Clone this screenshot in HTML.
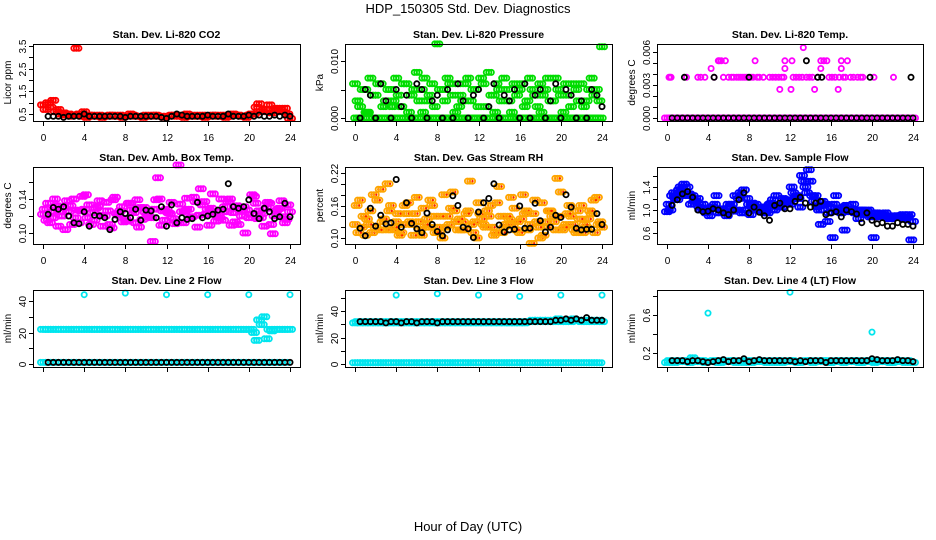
<!DOCTYPE html>
<html><head><meta charset="utf-8">
<style>
html,body{margin:0;padding:0;background:#fff;}
svg{display:block;font-family:"Liberation Sans",sans-serif;}
</style></head>
<body>
<svg id="chart" width="936" height="540" viewBox="0 0 936 540" xmlns="http://www.w3.org/2000/svg">
<rect x="0" y="0" width="936" height="540" fill="#fff"/>
<text x="468" y="13" text-anchor="middle" font-size="13">HDP_150305  Std. Dev. Diagnostics</text>
<text x="468" y="531" text-anchor="middle" font-size="13">Hour of Day (UTC)</text>
</svg>
<script>
// ---------- data ----------
const xTicks = [0,4,8,12,16,20,24];
const xTickLabels = ['0','4','8','12','16','20','24'];

// P1 CO2
const co2RedA = [0.9,1.0,1.1,0.7,0.55,0.5,0.45,0.5,0.6,0.45,0.4,0.45,0.4,0.45,0.4,0.45,0.4,0.5,0.4,0.4,0.45,0.4,0.45,0.4,0.4,0.45,0.4,0.45,0.5,0.4,0.4,0.45,0.4,0.45,0.4,0.45,0.4,0.5,0.45,0.4,0.45,0.5,0.95,0.7,0.9,0.65,0.7,0.75,0.3];
const co2RedB = [0.7,0.8,0.6,0.5,0.45,0.4,3.4,0.4,0.35,0.45,0.4,0.35,0.4,0.45,0.4,0.35,0.4,0.45,0.4,0.35,0.4,0.45,0.4,0.35,0.4,0.45,0.4,0.35,0.4,0.45,0.4,0.35,0.4,0.45,0.4,0.35,0.4,0.45,0.4,0.35,0.5,0.8,0.6,0.7,0.55,0.75,0.6,0.5];
const co2Black = [0.4,0.4,0.4,0.35,0.4,0.4,0.4,0.5,0.4,0.4,0.4,0.4,0.4,0.4,0.4,0.35,0.4,0.4,0.4,0.4,0.4,0.4,0.35,0.3,0.4,0.5,0.45,0.4,0.4,0.4,0.4,0.45,0.4,0.4,0.4,0.5,0.4,0.4,0.4,0.45,0.4,0.45,0.4,0.4,0.45,0.4,0.45,0.4];
const co2YTicks = [0.5,1,1.5,2,2.5,3,3.5];
const co2YLabels = ['0.5','','1.5','','2.5','','3.5'];

// P2 pressure (x 0.001)
const presGreenA = [6,2,5,7,4,6,3,5,7,2,6,4,8,5,3,6,13,5,7,4,6,3,7,5,2,6,8,4,5,7,3,6,5,2,7,4,6,5,3,7,4,6,2,5,6,3,7,5,12.5];
const presGreenB = [3,5,1,4,6,2,5,3,4,6,1,5,3,7,4,2,5,3,6,1,4,6,3,5,7,2,4,6,3,5,1,4,6,3,5,2,4,7,3,5,1,4,6,3,2,5,4,3];
const presGreenC = [0,0,1,0,0,0,0,2,0,0,0,0,0,1,0,0,0,0,0,0,2,0,0,0,0,0,0,1,0,0,0,0,0,0,0,0,1,0,0,0,0,0,0,0,0,0,0,0];
const presGreenD = [0,0,0,0,0,0,0,0,0,0,0,0,0,0,0,0,0,0,0,0,0,0,0,0,0,0,0,0,0,0,0,0,0,0,0,0,0,0,0,0,0,0,0,0,0,0,0,0];
const presBlack = [0,5,4,0,6,3,0,5,2,4,0,6,5,0,3,4,0,5,0,6,3,0,4,5,0,2,6,0,4,3,5,0,6,0,4,5,0,3,6,0,5,4,0,3,0,5,4,2];
const presYTicks = [0,0.005,0.010,0.015];
const presYLabels = ['0.000','','0.010',''];

// P3 Li-820 temp (x 0.001)
const tempZeroA = [0,0,0,0,0,0,0,0,0,0,0,0,0,0,0,0,0,0,0,0,0,0,0,0,0,0,0,0,0,0,0,0,0,0,0,0,0,0,0,0,0,0,0,0,0,0,0,0,0];
const tempZeroB = [0,0,0,0,0,0,0,0,0,0,0,0,0,0,0,0,0,0,0,0,0,0,0,0,0,0,0,0,0,0,0,0,0,0,0,0,0,0,0,0,0,0,0,0,0,0,0,0];
const tempHiX = [0.2,0.3,0.4,1.9,3.0,3.3,3.7,4.3,4.6,5.0,5.1,5.3,5.5,5.7,6.0,6.3,6.5,6.8,7.0,7.2,7.4,7.6,7.8,8.2,8.4,8.6,8.8,9.0,9.4,10.0,10.3,10.6,10.9,11.0,11.2,11.4,11.5,11.5,12.1,12.2,12.3,12.6,12.9,13.2,13.3,13.6,13.9,14.2,14.4,14.7,15.0,15.0,15.3,15.6,15.8,16.1,16.4,16.7,16.8,17.0,17.0,17.2,17.4,17.6,17.9,18.2,18.6,18.9,19.1,20.2,22.1];
const tempHiY = [3.7,3.7,3.7,3.7,3.7,3.7,3.7,4.5,3.7,5.2,5.2,5.2,3.7,5.2,3.7,3.7,3.7,3.7,3.7,3.7,3.7,3.7,3.7,3.7,3.7,5.2,3.7,3.7,3.7,3.7,3.7,3.7,3.7,2.6,3.7,3.7,5.2,4.5,2.6,5.2,3.7,3.7,3.7,3.7,6.4,3.7,3.7,3.7,2.6,3.7,5.2,4.5,5.2,5.2,3.7,3.7,3.7,2.6,3.7,5.2,4.5,3.7,3.7,5.2,3.7,3.7,3.7,3.7,3.7,3.7,3.7];
const tempBlack = [0,0,0,0,0,0,0,0,0,0,0,0,0,0,0,0,0,0,0,0,0,0,0,0,0,0,0,0,0,0,0,0,0,0,0,0,0,0,0,0,0,0,0,0,0,0,0,0];
const tempBlackHiX = [1.7,4.6,8.0,13.6,14.7,15.1,19.8,23.8];
const tempBlackHiY = [3.7,3.7,3.7,5.2,3.7,3.7,3.7,3.7];
const tempYTicks = [0,0.001,0.002,0.003,0.004,0.005,0.006];
const tempYLabels = ['0.000','','','0.003','','','0.006'];

// P4 amb box temp (x 0.001)
const ambA = [122,135,118,108,130,125,140,112,128,133,115,138,120,110,142,126,117,135,112,130,124,118,139,109,128,136,113,125,141,119,107,133,128,146,121,115,137,124,110,131,118,143,126,108,135,120,129,112,125];
const ambB = [128,112,140,125,104,132,118,126,145,110,129,121,136,106,123,131,114,127,139,116,122,90,165,126,124,117,180,112,128,142,121,137,109,125,118,131,140,113,127,100,122,135,118,129,110,126,138,116];
const ambC = [115,125,132,120,138,110,127,143,118,124,131,108,126,139,121,113,135,124,107,130,119,128,140,115,123,111,134,126,118,137,152,122,129,114,140,125,109,132,120,127,145,117,123,136,99,128,119,133];
const ambBlack = [122,130,128,131,120,112,111,125,108,121,120,118,104,116,125,123,118,128,115,127,126,118,131,108,133,112,118,116,117,136,118,120,122,127,128,158,131,129,131,139,123,117,129,125,117,119,135,119];
const ambYTicks = [0.10,0.12,0.14,0.16];
const ambYLabels = ['0.10','','0.14',''];

// P5 gas stream RH (x 0.001)
const rhA = [125,170,105,150,120,190,115,160,130,110,145,125,175,105,135,160,120,100,140,185,115,130,150,110,165,125,140,105,195,120,135,155,110,145,125,170,100,130,150,115,185,125,140,110,160,120,145,175,120];
const rhB = [160,120,135,110,170,130,200,115,145,125,165,105,130,155,120,140,110,180,125,150,135,115,205,130,145,120,160,110,140,125,175,115,135,150,90,130,165,120,140,210,115,145,125,150,110,135,170,125];
const rhC = [110,140,125,180,115,135,150,120,105,160,130,145,115,125,170,110,140,120,155,130,115,145,125,100,135,150,120,165,110,140,125,130,180,115,145,120,105,150,130,140,120,160,115,135,125,150,110,130];
const rhBlack = [118,104,155,122,142,126,128,208,120,165,127,117,110,146,125,112,104,115,178,160,120,117,101,148,165,173,200,124,111,115,116,159,118,118,164,132,111,120,142,138,180,157,118,115,116,116,145,125];
const rhYTicks = [0.10,0.12,0.14,0.16,0.18,0.20,0.22];
const rhYLabels = ['0.10','','','0.16','','','0.22'];

// P6 sample flow (x 0.01)
const sfA = [97,125,118,130,140,125,120,110,100,105,95,100,110,98,120,135,110,100,105,95,110,100,108,115,110,120,105,140,150,125,75,110,105,125,95,108,100,95,100,98,90,95,92,90,88,90,92,88,80];
const sfB = [110,130,135,145,128,115,105,100,90,110,102,95,105,125,130,100,92,110,98,105,112,125,105,118,140,125,160,130,125,105,115,80,52,100,105,97,110,85,95,100,52,88,90,85,90,88,85,92];
const sfC = [100,120,140,125,110,115,100,95,105,125,100,90,110,100,95,120,112,100,105,95,118,105,120,112,130,120,150,170,115,100,108,95,110,100,65,98,95,100,92,88,95,90,95,85,88,90,85,48];
const sfBlack = [108,118,128,132,122,100,97,98,102,100,95,92,100,118,130,95,105,96,90,82,108,112,102,102,115,122,112,105,112,115,92,95,97,88,100,97,93,78,95,82,76,78,72,72,78,75,75,72];
const sfYTicks = [0.6,0.8,1.0,1.2,1.4,1.6];
const sfYLabels = ['0.6','','1.0','','1.4',''];

// P7 line 2 flow
const l2A = [22,22,22,22,22,22,22,22,22,22,22,22,22,22,22,22,22,22,22,22,22,22,22,22,22,22,22,22,22,22,22,22,22,22,22,22,22,22,22,22,22,20,28,30,22,22,22,22,22];
const l2B = [22,22,22,22,22,22,22,22,22,22,22,22,22,22,22,22,22,22,22,22,22,22,22,22,22,22,22,22,22,22,22,22,22,22,22,22,22,22,22,22,22,15,25,16,21,22,22,22];
const l2Low = [1,1,1,1,1,1,1,1,1,1,1,1,1,1,1,1,1,1,1,1,1,1,1,1,1,1,1,1,1,1,1,1,1,1,1,1,1,1,1,1,1,1,1,1,1,1,1,1];
const l2OutX = [4,8,12,16,20,24];
const l2OutY = [44,45,44,44,44,44];
const l2Black = [1,1,1,1,1,1,1,1,1,1,1,1,1,1,1,1,1,1,1,1,1,1,1,1,1,1,1,1,1,1,1,1,1,1,1,1,1,1,1,1,1,1,1,1,1,1,1,1];
const l2YTicks = [0,10,20,30,40];
const l2YLabels = ['0','','20','','40'];

// P8 line 3 flow
const l3A = [31,31,31,31,31,31,31,31,31,31,31,31,31,31,31,31,31,31,31,31,31,31,31,31,31,31,31,31,31,31,31,31,31,31,32,32,32,32,32,32,32,32,32,33,32,32,32,32,32];
const l3B = [32,32,32,32,32,32,32,32,32,32,32,32,32,32,32,32,32,32,32,32,32,32,32,32,32,32,32,32,32,32,32,32,32,32,33,33,33,33,33,34,33,33,34,33,33,33,33,33];
const l3Low = [1,1,1,1,1,1,1,1,1,1,1,1,1,1,1,1,1,1,1,1,1,1,1,1,1,1,1,1,1,1,1,1,1,1,1,1,1,1,1,1,1,1,1,1,1,1,1,1];
const l3OutX = [4,8,12,16,20,24];
const l3OutY = [52,53,52,51,52,52];
const l3Black = [32,32,32,32,32,31,32,32,31,32,32,31,32,32,32,31,32,32,32,32,32,32,32,32,32,32,32,32,32,32,32,32,32,32,32,32,32,32,33,33,34,33,34,33,35,33,33,33];
const l3YTicks = [0,10,20,30,40,50];
const l3YLabels = ['0','','20','','40',''];

// P9 line 4 flow
const l4A = [0.1,0.11,0.12,0.11,0.12,0.15,0.11,0.12,0.11,0.12,0.1,0.12,0.11,0.12,0.11,0.1,0.12,0.11,0.12,0.11,0.12,0.1,0.12,0.11,0.12,0.11,0.1,0.12,0.11,0.12,0.11,0.12,0.1,0.12,0.11,0.12,0.11,0.12,0.1,0.12,0.11,0.12,0.11,0.12,0.1,0.12,0.11,0.12,0.1];
const l4B = [0.12,0.1,0.11,0.12,0.1,0.11,0.12,0.1,0.11,0.12,0.1,0.11,0.12,0.1,0.11,0.12,0.1,0.11,0.12,0.1,0.11,0.12,0.1,0.11,0.12,0.1,0.11,0.12,0.1,0.11,0.12,0.1,0.11,0.12,0.1,0.11,0.12,0.1,0.11,0.12,0.1,0.11,0.12,0.1,0.11,0.12,0.1,0.11];
const l4OutX = [4,12,20];
const l4OutY = [0.62,0.84,0.42];
const l4Black = [0.12,0.12,0.12,0.11,0.12,0.12,0.11,0.1,0.11,0.12,0.13,0.11,0.12,0.12,0.14,0.11,0.12,0.13,0.12,0.12,0.12,0.12,0.12,0.12,0.11,0.12,0.11,0.12,0.12,0.12,0.1,0.12,0.12,0.12,0.12,0.12,0.12,0.12,0.12,0.14,0.13,0.12,0.12,0.12,0.13,0.12,0.12,0.11];
const l4YTicks = [0.2,0.4,0.6,0.8];
const l4YLabels = ['0.2','','0.6',''];

// ---------- layout ----------
const svg = document.getElementById('chart');
const NS = 'http://www.w3.org/2000/svg';
const BLUE='#0000ff', CYAN='#00e5ee';

const panels = [
 {name:'co2', title:'Stan. Dev. Li-820 CO2', ylab:'Licor ppm', bx:[33,300], by:[44,121], px:[43,290], yv:[0.5,3.5], py:[114,46], yt:co2YTicks, yl:co2YLabels, xl:true,
  series:[{v:co2RedA,s:0,st:0.5,k:1,c:'#ff0000'},{v:co2RedB,s:0.25,st:0.5,k:1,c:'#ff0000'},{v:co2Black,s:0.5,st:0.5,k:1,c:'#000'}]},
 {name:'pressure', title:'Stan. Dev. Li-820 Pressure', ylab:'kPa', bx:[345,612], by:[44,121], px:[355,602], yv:[0,0.010], py:[118,61], yt:presYTicks, yl:presYLabels, xl:true,
  series:[{v:presGreenA,s:0,st:0.5,k:0.001,c:'#00dd00'},{v:presGreenB,s:0.25,st:0.5,k:0.001,c:'#00dd00'},{v:presGreenC,s:0.12,st:0.5,k:0.001,c:'#00dd00'},{v:presGreenD,s:0.37,st:0.5,k:0.001,c:'#00dd00'},{v:presBlack,s:0.5,st:0.5,k:0.001,c:'#000'}]},
 {name:'li820-temp', title:'Stan. Dev. Li-820 Temp.', ylab:'degrees C', bx:[657,923], by:[44,121], px:[667,913], yv:[0,0.006], py:[118,52], yt:tempYTicks, yl:tempYLabels, xl:true,
  series:[{v:tempZeroA,s:0,st:0.5,k:0.001,c:'#ff00ff'},{v:tempZeroB,s:0.25,st:0.5,k:0.001,c:'#ff00ff'},{x:tempHiX,y:tempHiY,k:0.001,c:'#ff00ff'},{v:tempBlack,s:0.5,st:0.5,k:0.001,c:'#000'},{x:tempBlackHiX,y:tempBlackHiY,k:0.001,c:'#000'}]},
 {name:'amb-box-temp', title:'Stan. Dev. Amb. Box Temp.', ylab:'degrees C', bx:[33,300], by:[167,244], px:[43,290], yv:[0.10,0.14], py:[233,199], yt:ambYTicks, yl:ambYLabels, xl:true,
  series:[{v:ambA,s:0,st:0.5,k:0.001,c:'#ff00ff'},{v:ambB,s:0.17,st:0.5,k:0.001,c:'#ff00ff'},{v:ambC,s:0.33,st:0.5,k:0.001,c:'#ff00ff'},{v:ambBlack,s:0.5,st:0.5,k:0.001,c:'#000'}]},
 {name:'gas-stream-rh', title:'Stan. Dev. Gas Stream RH', ylab:'percent', bx:[345,612], by:[167,244], px:[355,602], yv:[0.10,0.22], py:[238,173], yt:rhYTicks, yl:rhYLabels, xl:true,
  series:[{v:rhA,s:0,st:0.5,k:0.001,c:'#ffa500',in:'#ff2000'},{v:rhB,s:0.17,st:0.5,k:0.001,c:'#ffa500',in:'#ff2000'},{v:rhC,s:0.33,st:0.5,k:0.001,c:'#ffa500',in:'#ff2000'},{v:rhBlack,s:0.5,st:0.5,k:0.001,c:'#000'}]},
 {name:'sample-flow', title:'Stan. Dev. Sample Flow', ylab:'ml/min', bx:[657,923], by:[167,244], px:[667,913], yv:[0.6,1.4], py:[233,187], yt:sfYTicks, yl:sfYLabels, xl:true,
  series:[{v:sfA,s:0,st:0.5,k:0.01,c:BLUE},{v:sfB,s:0.17,st:0.5,k:0.01,c:BLUE},{v:sfC,s:0.33,st:0.5,k:0.01,c:BLUE},{v:sfBlack,s:0.5,st:0.5,k:0.01,c:'#000'}]},
 {name:'line2-flow', title:'Stan. Dev. Line 2 Flow', ylab:'ml/min', bx:[33,300], by:[290,367], px:[43,290], yv:[0,40], py:[364,301], yt:l2YTicks, yl:l2YLabels, xl:false,
  series:[{v:l2A,s:0,st:0.5,k:1,c:CYAN},{v:l2B,s:0.25,st:0.5,k:1,c:CYAN},{v:l2Low,s:0,st:0.5,k:1,c:CYAN},{x:l2OutX,y:l2OutY,k:1,c:CYAN},{v:l2Black,s:0.5,st:0.5,k:1,c:'#000'}]},
 {name:'line3-flow', title:'Stan. Dev. Line 3 Flow', ylab:'ml/min', bx:[345,612], by:[290,367], px:[355,602], yv:[0,40], py:[364,311], yt:l3YTicks, yl:l3YLabels, xl:false,
  series:[{v:l3A,s:0,st:0.5,k:1,c:CYAN},{v:l3B,s:0.25,st:0.5,k:1,c:CYAN},{v:l3Low,s:0,st:0.5,k:1,c:CYAN},{v:l3Low,s:0.25,st:0.5,k:1,c:CYAN},{x:l3OutX,y:l3OutY,k:1,c:CYAN},{v:l3Black,s:0.5,st:0.5,k:1,c:'#000'}]},
 {name:'line4-flow', title:'Stan. Dev. Line 4 (LT) Flow', ylab:'ml/min', bx:[657,923], by:[290,367], px:[667,913], yv:[0.2,0.6], py:[353,315], yt:l4YTicks, yl:l4YLabels, xl:false,
  series:[{v:l4A,s:0,st:0.5,k:1,c:CYAN},{v:l4B,s:0.25,st:0.5,k:1,c:CYAN},{x:l4OutX,y:l4OutY,k:1,c:CYAN},{v:l4Black,s:0.5,st:0.5,k:1,c:'#000'}]}
];

function mk(tag, attrs, parent){
  const e = document.createElementNS(NS, tag);
  for (const k in attrs) e.setAttribute(k, attrs[k]);
  (parent||svg).appendChild(e);
  return e;
}

// marker cluster offsets (visual thickness of overplotted readings), in px
const clusterDx = [-2.5, 0, 2.5];

panels.forEach(p => {
  const g = mk('g', {});
  
  
  const sx = h => p.px[0] + (p.px[1]-p.px[0]) * h / 24;
  const sy = v => p.py[0] + (p.py[1]-p.py[0]) * (v - p.yv[0]) / (p.yv[1]-p.yv[0]);
  const [x0,x1] = p.bx, [y0,y1] = p.by;
  const cx = (x0+x1)/2;

  const t = mk('text', {x:cx, y:y0-6, 'text-anchor':'middle', 'font-size':'10.5', 'font-weight':'bold'}, g);
  t.textContent = p.title;
  
  

  const yl = mk('text', {x:0, y:0, 'text-anchor':'middle', 'font-size':'10', transform:`translate(${x0-22},${(y0+y1)/2}) rotate(-90)`}, g);
  yl.textContent = p.ylab;
  
  

  const pg = mk('g', {fill:'none', 'stroke-width':'1.8'}, g);
  
  
  p.series.forEach(s => {
    const pts = [];
    if (s.v) s.v.forEach((v,i) => pts.push([s.s + i*s.st, v*s.k]));
    else s.x.forEach((x,i) => pts.push([x, s.y[i]*s.k]));
    const black = s.c === '#000';
    const offs = (black || s.x) ? [0] : clusterDx;
    pts.forEach(([h,v]) => {
      if (h > 24.01) return;
      offs.forEach(dx => {
        const X = Math.min(x1-2, Math.max(x0+2, sx(h)+dx));
        const c = mk('circle', {cx:X.toFixed(1), cy:sy(v).toFixed(1), r:'2.6', stroke:s.c}, pg);
        
        
        if (s.in) {
          const d = mk('circle', {cx:X.toFixed(1), cy:sy(v).toFixed(1), r:'1.1', fill:s.in, stroke:'none'}, pg);
          
          
        }
      });
    });
  });

  const box = mk('rect', {x:x0+0.5, y:y0+0.5, width:x1-x0, height:y1-y0, fill:'none', stroke:'#000', 'stroke-width':'1'}, g);
  
  

  const xa = mk('g', {stroke:'#000', 'stroke-width':'1'}, g);
  
  
  xTicks.forEach((h,i) => {
    const X = Math.round(sx(h))+0.5;
    mk('line', {x1:X, x2:X, y1:y1+1, y2:y1+5}, xa);
    if (p.xl) {
      const tx = mk('text', {x:X, y:y1+20, 'text-anchor':'middle', 'font-size':'10', stroke:'none', fill:'#000'}, xa);
      tx.textContent = xTickLabels[i];
      
      
    }
  });
  const ya = mk('g', {stroke:'#000', 'stroke-width':'1'}, g);
  
  
  p.yt.forEach((v,i) => {
    const Y = Math.round(sy(v))+0.5;
    if (Y < y0 - 1 || Y > y1 + 2) return;
    mk('line', {x1:x0-4, x2:x0, y1:Y, y2:Y}, ya);
    if (p.yl[i]) {
      const ty = mk('text', {x:0, y:0, 'text-anchor':'middle', 'font-size':'10', stroke:'none', fill:'#000', transform:`translate(${x0-7},${Y}) rotate(-90)`}, ya);
      ty.textContent = p.yl[i];
      
      
    }
  });
});
</script>
</body></html>
